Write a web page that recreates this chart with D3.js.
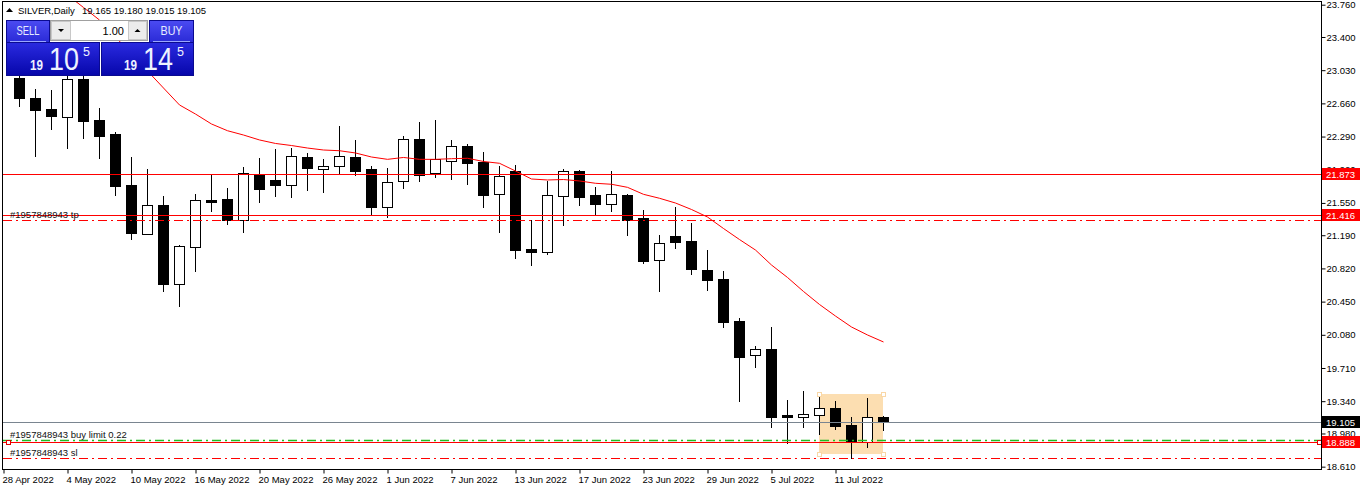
<!DOCTYPE html>
<html><head><meta charset="utf-8">
<script src="https://cdn.jsdelivr.net/npm/d3@7/dist/d3.min.js"></script>
<style>html,body{margin:0;padding:0;background:#fff;}svg{display:block;font-family:"Liberation Sans",Arial,sans-serif;}</style>
</head><body><svg id="c" width="1362" height="490"></svg>
<script>
// ---- data ----
const dates = ["2022-04-28","2022-04-29","2022-05-02","2022-05-03","2022-05-04","2022-05-05","2022-05-06","2022-05-09","2022-05-10","2022-05-11","2022-05-12","2022-05-13","2022-05-16","2022-05-17","2022-05-18","2022-05-19","2022-05-20","2022-05-23","2022-05-24","2022-05-25","2022-05-26","2022-05-27","2022-05-30","2022-05-31","2022-06-01","2022-06-02","2022-06-03","2022-06-06","2022-06-07","2022-06-08","2022-06-09","2022-06-10","2022-06-13","2022-06-14","2022-06-15","2022-06-16","2022-06-17","2022-06-20","2022-06-21","2022-06-22","2022-06-23","2022-06-24","2022-06-27","2022-06-28","2022-06-29","2022-06-30","2022-07-01","2022-07-04","2022-07-05","2022-07-06","2022-07-07","2022-07-08","2022-07-11","2022-07-12","2022-07-13","2022-07-14"];
const candleDates = dates.slice(1);
const openV  = [22.94,22.720,22.597,22.511,22.932,22.475,22.318,21.750,21.207,21.524,20.643,21.055,21.583,21.594,21.363,21.876,21.806,21.747,22.062,21.932,21.958,22.062,21.928,21.501,21.795,22.259,21.880,22.021,22.185,22.003,21.646,21.906,21.036,21.000,21.624,21.906,21.638,21.535,21.638,21.382,20.910,21.181,21.126,20.802,20.702,20.234,19.851,19.922,19.186,19.160,19.186,19.264,19.075,18.881,19.165];
const highV  = [23.00,22.820,22.809,23.00,23.00,22.605,22.344,22.062,21.928,21.627,21.078,21.650,21.876,21.717,21.951,22.051,22.151,22.162,22.107,22.040,22.408,22.252,21.962,21.936,22.296,22.452,22.475,22.252,22.207,22.118,21.962,21.973,21.360,21.795,21.925,21.917,21.728,21.906,21.650,21.471,21.193,21.508,21.330,21.025,20.788,20.264,19.952,20.164,19.353,19.453,19.428,19.342,19.160,19.375,19.180];
const lowV   = [22.634,22.077,22.374,22.166,22.277,22.054,21.638,21.145,21.200,20.572,20.404,20.794,21.463,21.315,21.229,21.564,21.631,21.620,21.698,21.675,21.887,21.865,21.427,21.390,21.720,21.798,21.843,21.820,21.765,21.508,21.229,20.933,20.855,20.977,21.304,21.530,21.427,21.463,21.196,20.884,20.572,21.051,20.754,20.579,20.170,19.345,19.724,19.055,18.877,19.055,18.971,19.027,18.710,18.826,19.015];
const closeV = [22.723,22.589,22.523,22.932,22.467,22.300,21.742,21.218,21.524,20.643,21.067,21.579,21.564,21.363,21.880,21.709,21.753,22.070,21.943,21.958,22.070,21.909,21.508,21.783,22.259,21.865,22.036,22.185,21.999,21.642,21.847,21.029,21.006,21.635,21.903,21.620,21.541,21.646,21.363,20.906,21.100,21.111,20.810,20.694,20.226,19.836,19.922,19.167,19.167,19.197,19.260,19.067,18.896,19.164,19.105];
const maV = [null,null,null,23.868,23.729,23.589,23.400,23.210,23.021,22.831,22.642,22.541,22.430,22.355,22.307,22.252,22.213,22.190,22.162,22.140,22.132,22.107,22.062,22.036,22.057,22.036,22.036,22.043,22.048,22.012,21.992,21.906,21.817,21.806,21.811,21.795,21.769,21.758,21.724,21.646,21.602,21.549,21.477,21.393,21.265,21.142,21.025,20.858,20.719,20.563,20.418,20.289,20.167,20.078,20.000];
const xTickDates  = ["2022-04-28","2022-05-04","2022-05-10","2022-05-16","2022-05-20","2022-05-26","2022-06-01","2022-06-07","2022-06-13","2022-06-17","2022-06-23","2022-06-29","2022-07-05","2022-07-11"];
const xTickLabels = ["28 Apr 2022","4 May 2022","10 May 2022","16 May 2022","20 May 2022","26 May 2022","1 Jun 2022","7 Jun 2022","13 Jun 2022","17 Jun 2022","23 Jun 2022","29 Jun 2022","5 Jul 2022","11 Jul 2022"];
const yTicks = [23.760,23.400,23.030,22.660,22.290,21.920,21.550,21.190,20.820,20.450,20.080,19.710,19.340,18.980,18.610];
const levelNames  = ["tpPrice","tpLine","bid","buyLimit","limitPrice","slLine"];
const levelValues = [21.873,21.416,19.105,18.904,18.888,18.703];
const tpLevel = 21.356;
const rectDates = ["2022-07-08","2022-07-14"];
const rectPrices = [19.420,18.751];
const symbolTitle = "SILVER,Daily";
const ohlcTitle = "19.165 19.180 19.015 19.105";

// ---- scales ----
const svg = d3.select("#c");
const L = 3, R = 1321, T = 2, B = 469;
const x = d3.scalePoint().domain(dates).range([3, 883]);
const y = d3.scaleLinear().domain([18.584, 23.790]).range([469, 2]);
const px = v => Math.round(v) + 0.5;

svg.append("rect").attr("width",1362).attr("height",490).attr("fill","#fff");
svg.append("defs").append("clipPath").attr("id","plot").append("rect")
  .attr("x",L).attr("y",T).attr("width",R-L).attr("height",B-T);
const plot = svg.append("g").attr("clip-path","url(#plot)");

// background rectangle object
const rx0 = x(rectDates[0]), rx1 = x(rectDates[1]);
const ry0 = y(rectPrices[0]), ry1 = y(rectPrices[1]);
plot.append("rect").attr("x",rx0).attr("y",ry0).attr("width",rx1-rx0).attr("height",ry1-ry0).attr("fill","#fcdeb1");

// candles
const candles = candleDates.map((d,i)=>({d,o:openV[i],h:highV[i],l:lowV[i],c:closeV[i]}));
const cg = plot.append("g");
candles.forEach(k=>{
  const cx = px(x(k.d));
  cg.append("line").attr("x1",cx).attr("x2",cx).attr("y1",Math.round(y(k.h))).attr("y2",Math.round(y(k.l))+1)
    .attr("stroke","#000").attr("stroke-width",1);
  const top = Math.round(y(Math.max(k.o,k.c))), bot = Math.round(y(Math.min(k.o,k.c)));
  const bull = k.c >= k.o;
  cg.append("rect").attr("x",Math.round(x(k.d))-5+0.5).attr("y",top+0.5).attr("width",10).attr("height",Math.max(bot-top,1))
    .attr("fill",bull?"#fff":"#000").attr("stroke","#000").attr("stroke-width",1);
});

// rectangle handles
[[rx0,ry0],[rx1,ry0],[rx0,ry1],[rx1,ry1]].forEach(([a,b])=>{
  plot.append("rect").attr("x",Math.round(a)-2+0.5).attr("y",Math.round(b)-2+0.5).attr("width",4).attr("height",4)
    .attr("fill","#fff").attr("stroke","#f9d7a6").attr("stroke-width",1);
});

// moving average
const maData = candleDates.map((d,i)=>({d,v:maV[i]})).filter(p=>p.v!==null);
plot.append("path").datum(maData)
  .attr("d", d3.line().x(p=>x(p.d)+0.5).y(p=>y(p.v)))
  .attr("fill","none").attr("stroke","#ff0000").attr("stroke-width",1);

// level lines
const lv = Object.fromEntries(levelNames.map((n,i)=>[n,levelValues[i]]));
function hline(v, color, dash, w){
  plot.append("line").attr("x1",L).attr("x2",R).attr("y1",px(y(v))).attr("y2",px(y(v)))
    .attr("stroke",color).attr("stroke-width",w||1).attr("stroke-dasharray",dash||null);
}
hline(lv.tpPrice,"#ff0000");
hline(lv.tpLine,"#ff0000");
hline(tpLevel,"#ff0000","9,4,2,4",1.2);
hline(lv.bid,"#7a8590");
hline(lv.buyLimit,"#22bb22","9,4,2,4",1.6);
hline(lv.limitPrice,"#ff0000");
hline(lv.slLine,"#ff0000","9,4,2,4",1.2);

// line labels
const lblFont = 9.5;
function lbl(txt, v){
  svg.append("text").attr("x",10).attr("y",y(v)-2.5).attr("font-size",lblFont).attr("fill","#111").text(txt);
}
lbl("#1957848943 tp", tpLevel);
lbl("#1957848943 buy limit 0.22", lv.buyLimit);
lbl("#1957848943 sl", lv.slLine);

// small squares on limit line
[L+2.5, R-4.5].forEach(a=>{
  svg.append("rect").attr("x",Math.round(a)+0.5).attr("y",Math.round(y(lv.limitPrice))-2+0.5).attr("width",4).attr("height",4)
    .attr("fill","#fff").attr("stroke","#e00000").attr("stroke-width",1);
});

// frame
svg.append("rect").attr("x",L-0.5).attr("y",T-0.5).attr("width",R-L+1).attr("height",B-T+1)
  .attr("fill","none").attr("stroke","#000").attr("stroke-width",1);

// axes
const yAxis = svg.append("g").attr("transform",`translate(${R+0.5},0)`)
  .call(d3.axisRight(y).tickValues(yTicks).tickFormat(d3.format(".3f")).tickSize(4).tickPadding(1));
yAxis.select(".domain").remove();
yAxis.selectAll("text").attr("font-size",9.5).attr("fill","#000").attr("font-family",'"Liberation Sans",Arial,sans-serif');
yAxis.selectAll("line").attr("stroke","#000");

const xAxis = svg.append("g").attr("transform",`translate(0,${B+0.5})`)
  .call(d3.axisBottom(x).tickValues(xTickDates).tickFormat((d,i)=>xTickLabels[i]).tickSize(4).tickPadding(3));
xAxis.select(".domain").remove();
xAxis.selectAll("text").attr("font-size",9.5).attr("fill","#000").attr("text-anchor","start").attr("dx",-1)
  .attr("font-family",'"Liberation Sans",Arial,sans-serif');
xAxis.selectAll("line").attr("stroke","#000").attr("transform","translate(0.5,0)");

// price boxes on axis
function priceBox(v, bg, fg){
  const cy = Math.round(y(v));
  svg.append("rect").attr("x",R+1).attr("y",cy-6).attr("width",38).attr("height",12).attr("fill",bg);
  svg.append("text").attr("x",R+5).attr("y",cy+3.5).attr("font-size",9.5).attr("fill",fg).text(d3.format(".3f")(v));
}
priceBox(lv.tpPrice,"#ff0000","#fff");
priceBox(lv.tpLine,"#ff0000","#fff");
priceBox(lv.bid,"#000","#fff");
priceBox(lv.limitPrice,"#ff0000","#fff");

// ---- one-click trading panel ----
const defs = svg.select("defs");
const g1 = defs.append("linearGradient").attr("id","btn").attr("x1",0).attr("y1",0).attr("x2",0).attr("y2",1);
g1.append("stop").attr("offset","0%").attr("stop-color","#4b4bf2");
g1.append("stop").attr("offset","100%").attr("stop-color","#2a2ad6");
const g2 = defs.append("linearGradient").attr("id","pbox").attr("x1",0).attr("y1",0).attr("x2",0).attr("y2",1);
g2.append("stop").attr("offset","0%").attr("stop-color","#2a2ae0");
g2.append("stop").attr("offset","100%").attr("stop-color","#0606aa");

// title
svg.append("path").attr("d","M6,12 L9.5,8 L13,12 Z").attr("fill","#000");
svg.append("text").attr("x",18).attr("y",13.5).attr("font-size",9.5).attr("fill","#000").text(symbolTitle);
svg.append("text").attr("x",82).attr("y",13.5).attr("font-size",9.5).attr("fill","#000").text(ohlcTitle);

// buttons
function side(bx, bw, pbx, pbw, label, big, sup){
  svg.append("rect").attr("x",pbx+0.5).attr("y",42.5).attr("width",pbw).attr("height",33).attr("fill","url(#pbox)").attr("stroke","#0a0a90");
  svg.append("rect").attr("x",bx+0.5).attr("y",20.5).attr("width",bw).attr("height",22).attr("fill","url(#btn)").attr("stroke","#0a0a90");
  svg.append("line").attr("x1",bx+4).attr("x2",bx+bw-3).attr("y1",41.5).attr("y2",41.5).attr("stroke","#9aa6ff");
  svg.append("text").attr("x",bx+bw/2+0.5).attr("y",35).attr("text-anchor","middle").attr("font-size",12).attr("fill","#e6ecff")
    .attr("textLength",label==="SELL"?23:22).attr("lengthAdjust","spacingAndGlyphs").text(label);
  return pbx;
}
side(6,43,6,93,"SELL");
side(149,44,101,92,"BUY");
function priceDigits(x0, small, big, sup){
  svg.append("text").attr("x",x0).attr("y",70).attr("font-size",14).attr("font-weight","bold").attr("fill","#eef2ff")
    .attr("textLength",13).attr("lengthAdjust","spacingAndGlyphs").text(small);
  svg.append("text").attr("x",x0+19).attr("y",70).attr("font-size",32).attr("fill","#eef2ff")
    .attr("textLength",30).attr("lengthAdjust","spacingAndGlyphs").text(big);
  svg.append("text").attr("x",x0+53).attr("y",56).attr("font-size",12.5).attr("fill","#eef2ff").text(sup);
}
priceDigits(30,"19","10","5");
priceDigits(124,"19","14","5");

// spinner
svg.append("rect").attr("x",50.5).attr("y",20.5).attr("width",97).attr("height",20).attr("fill","#fff").attr("stroke","#a0a0a0");
svg.append("rect").attr("x",51.5).attr("y",21.5).attr("width",19).attr("height",18).attr("fill","#ececec").attr("stroke","#c8c8c8");
svg.append("rect").attr("x",128.5).attr("y",21.5).attr("width",18).attr("height",18).attr("fill","#ececec").attr("stroke","#c8c8c8");
svg.append("path").attr("d","M58,29 L64,29 L61,32 Z").attr("fill","#000");
svg.append("path").attr("d","M134.5,32 L140.5,32 L137.5,29 Z").attr("fill","#000");
svg.append("text").attr("x",124).attr("y",35).attr("text-anchor","end").attr("font-size",11).attr("fill","#000").text("1.00");
</script></body></html>
